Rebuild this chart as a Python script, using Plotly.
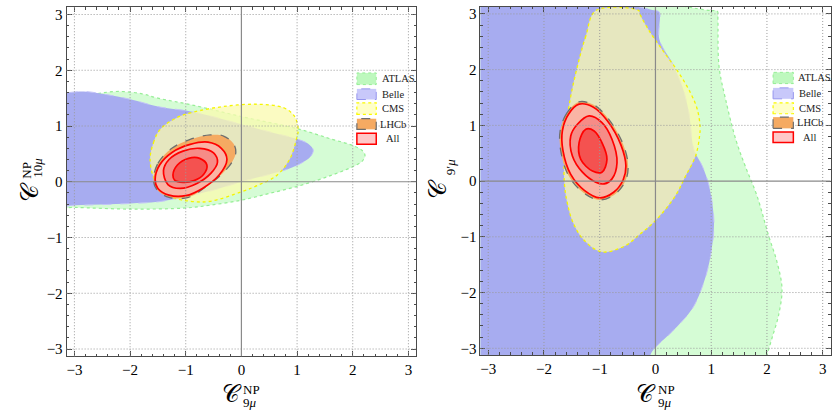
import plotly.graph_objects as go

W, H = 832, 411

# ---------------- data: contour boundaries ----------------
# Left panel: C9mu^NP (x) vs C10mu^NP (y)
atlas_l_x = [-3.5, -3.0, -2.6, -2.2, -1.8, -1.5, -0.9, 0.0, 1.05, 1.6, 2.0, 2.17, 2.22, 2.17, 2.0, 1.6, 1.05, 0.5, 0.0, -0.56, -1.0, -2.0, -3.0, -3.5]
atlas_l_y = [1.45, 1.5, 1.58, 1.62, 1.58, 1.5, 1.38, 1.17, 0.94, 0.77, 0.65, 0.56, 0.47, 0.37, 0.27, 0.11, -0.07, -0.21, -0.33, -0.42, -0.47, -0.49, -0.46, -0.45]

belle_l_x = [-3.5, -3.1, -2.83, -2.4, -2.0, -1.46, -0.9, 0.0, 0.6, 0.99, 1.2, 1.29, 1.24, 1.05, 0.75, 0.3, 0.0, -0.5, -1.0, -1.5, -2.0, -2.5, -3.0, -3.5]
belle_l_y = [1.56, 1.6, 1.62, 1.56, 1.48, 1.34, 1.26, 1.03, 0.87, 0.77, 0.68, 0.57, 0.45, 0.32, 0.2, 0.08, 0.0, -0.15, -0.27, -0.36, -0.39, -0.41, -0.42, -0.42]

cms_l_x = [-1.64, -1.58, -1.46, -1.16, -0.86, -0.32, 0.28, 0.75, 0.95, 1.02, 0.99, 0.87, 0.63, 0.28, 0.0, -0.56, -0.92, -1.3, -1.55]
cms_l_y = [0.4, 0.7, 0.94, 1.15, 1.25, 1.35, 1.39, 1.33, 1.18, 0.94, 0.77, 0.41, 0.11, -0.07, -0.18, -0.35, -0.35, -0.25, 0.02]

lhcb_l_x = [-1.58, -1.5, -1.25, -0.92, -0.56, -0.32, -0.14, -0.1, -0.17, -0.35, -0.65, -0.95, -1.3, -1.52]
lhcb_l_y = [0.03, 0.33, 0.6, 0.76, 0.84, 0.82, 0.68, 0.53, 0.35, 0.14, -0.1, -0.28, -0.28, -0.14]

all3_l_x = [-1.55, -1.47, -1.24, -0.92, -0.6, -0.36, -0.26, -0.4, -0.7, -1.0, -1.3, -1.5]
all3_l_y = [0.04, 0.3, 0.53, 0.67, 0.71, 0.6, 0.4, 0.12, -0.12, -0.25, -0.24, -0.12]
all2_l_x = [-1.4, -1.3, -1.05, -0.75, -0.5, -0.43, -0.55, -0.8, -1.1, -1.32]
all2_l_y = [0.2, 0.4, 0.55, 0.6, 0.52, 0.35, 0.15, -0.03, -0.12, -0.05]
all1_l_x = [-1.23, -1.15, -0.95, -0.75, -0.62, -0.68, -0.85, -1.05, -1.2]
all1_l_y = [0.12, 0.3, 0.42, 0.42, 0.3, 0.13, 0.02, -0.01, 0.03]

# Right panel: C9mu^NP (x) vs C9'mu (y)
atlas_r_x = [-3.5, 1.0, 1.11, 1.12, 1.14, 1.26, 1.44, 1.61, 1.82, 2.03, 2.18, 2.27, 2.21, 2.09, 2.0, 1.97, -3.5]
atlas_r_y = [3.06, 3.06, 3.05, 2.9, 2.06, 1.46, 0.75, 0.27, -0.26, -0.98, -1.45, -1.93, -2.4, -2.82, -3.15, -3.5, -3.5]

belle_r_x = [-3.5, 0.0, 0.07, 0.07, 0.3, 0.48, 0.6, 0.69, 0.84, 0.96, 1.05, 0.99, 0.87, 0.66, 0.3, -0.06, -0.25, -3.5]
belle_r_y = [3.06, 3.06, 3.03, 2.54, 2.12, 1.7, 1.23, 0.57, 0.27, -0.08, -0.74, -1.33, -1.81, -2.29, -2.7, -3.06, -3.5, -3.5]

cms_r_x = [-1.07, -1.25, -1.4, -1.52, -1.6, -1.64, -1.63, -1.58, -1.48, -1.3, -0.97, -0.54, -0.3, 0.0, 0.36, 0.54, 0.72, 0.79, 0.8, 0.75, 0.63, 0.42, 0.12, -0.12, -0.28, -0.3]
cms_r_y = [3.06, 2.6, 2.06, 1.52, 0.99, 0.39, -0.08, -0.4, -0.74, -1.04, -1.27, -1.16, -0.97, -0.71, -0.26, 0.09, 0.45, 0.8, 0.97, 1.29, 1.58, 1.94, 2.36, 2.71, 3.0, 3.06]

lhcb_r_x = [-1.38, -1.59, -1.71, -1.7, -1.56, -1.29, -1.0, -0.72, -0.54, -0.49, -0.58, -0.83, -1.11]
lhcb_r_y = [1.42, 1.22, 0.9, 0.55, 0.1, -0.21, -0.34, -0.23, 0.0, 0.27, 0.66, 1.1, 1.37]

all3_r_x = [-1.37, -1.56, -1.67, -1.66, -1.52, -1.27, -1.0, -0.75, -0.58, -0.53, -0.62, -0.86, -1.12]
all3_r_y = [1.38, 1.2, 0.9, 0.55, 0.12, -0.17, -0.3, -0.2, 0.02, 0.27, 0.65, 1.08, 1.33]
all2_r_x = [-1.19, -1.4, -1.52, -1.49, -1.31, -1.07, -0.92, -0.78, -0.69, -0.78, -0.96]
all2_r_y = [1.17, 1.02, 0.81, 0.45, 0.16, -0.02, -0.05, 0.04, 0.33, 0.75, 1.05]
all1_r_x = [-1.25, -1.37, -1.34, -1.13, -0.96, -0.87, -0.96, -1.1]
all1_r_y = [0.93, 0.69, 0.39, 0.18, 0.16, 0.39, 0.69, 0.9]

tick_vals = [-3, -2, -1, 0, 1, 2, 3]
legend_labels = ["ATLAS", "Belle", "CMS", "LHCb", "All"]

# ---------------- styles ----------------
STY = {
    "ATLAS": dict(fill="rgb(213,252,213)", line="rgb(150,238,150)", dash="dot", width=1.2),
    "Belle": dict(fill="rgb(167,172,240)", line="rgb(195,195,248)", dash="dash", width=1.0),
    "CMS": dict(fill="rgba(250,250,175,0.76)", line="rgb(245,245,0)", dash="dot", width=1.3),
    "LHCb": dict(fill="rgb(245,170,98)", line="rgb(110,110,110)", dash="dash", width=1.3),
    "All3": dict(fill="rgb(250,180,165)", line="rgb(255,0,0)", dash="solid", width=1.7),
    "All2": dict(fill="rgb(246,140,135)", line="rgb(255,0,0)", dash="solid", width=1.7),
    "All1": dict(fill="rgb(244,82,80)", line="rgb(255,0,0)", dash="solid", width=1.7),
}

fig = go.Figure()


def region(xs, ys, key, xa, ya):
    s = STY[key]
    fig.add_trace(go.Scatter(
        x=xs + xs[:1], y=ys + ys[:1], mode="lines", fill="toself",
        fillcolor=s["fill"],
        line=dict(color=s["line"], dash=s["dash"], width=s["width"], shape="spline", smoothing=1.0),
        xaxis=xa, yaxis=ya, hoverinfo="skip", showlegend=False))


for xa, ya, data in [
    ("x", "y", [(atlas_l_x, atlas_l_y, "ATLAS"), (belle_l_x, belle_l_y, "Belle"), (cms_l_x, cms_l_y, "CMS"),
                (lhcb_l_x, lhcb_l_y, "LHCb"), (all3_l_x, all3_l_y, "All3"), (all2_l_x, all2_l_y, "All2"),
                (all1_l_x, all1_l_y, "All1")]),
    ("x2", "y2", [(atlas_r_x, atlas_r_y, "ATLAS"), (belle_r_x, belle_r_y, "Belle"), (cms_r_x, cms_r_y, "CMS"),
                  (lhcb_r_x, lhcb_r_y, "LHCb"), (all3_r_x, all3_r_y, "All3"), (all2_r_x, all2_r_y, "All2"),
                  (all1_r_x, all1_r_y, "All1")]),
]:
    for xs, ys, key in data:
        region(xs, ys, key, xa, ya)

FRAME = "#4a4a4a"
axis_common = dict(
    showgrid=False, zeroline=False, showline=True, linecolor=FRAME, linewidth=1, mirror="ticks",
    ticks="inside", ticklen=5, tickwidth=1, tickcolor=FRAME, tickmode="array", tickvals=tick_vals,
    ticktext=[str(v).replace("-", "\u2212") for v in tick_vals],
    minor=dict(ticks="inside", ticklen=2.5, tickcolor=FRAME, dtick=0.2, tick0=0, showgrid=False),
    tickfont=dict(family="Liberation Serif", size=15, color="black"),
    layer="above traces", fixedrange=True,
)

px2x = lambda p: p / W
px2y = lambda p: 1 - p / H

fig.update_layout(
    width=W, height=H, margin=dict(l=0, r=0, t=0, b=0),
    paper_bgcolor="white", plot_bgcolor="white", showlegend=False,
    xaxis=dict(domain=[px2x(66.7), px2x(416.7)], range=[-3.14, 3.14], anchor="y", **axis_common),
    yaxis=dict(domain=[px2y(358), px2y(7.3)], range=[-3.13, 3.13], anchor="x", **axis_common),
    xaxis2=dict(domain=[px2x(481), px2x(831.5)], range=[-3.14, 3.14], anchor="y2", **axis_common),
    yaxis2=dict(domain=[px2y(356.7), px2y(6.7)], range=[-3.12, 3.13], anchor="x2", **axis_common),
)

shapes = []
GRID = dict(color="#9a9a9a", width=1, dash="1px,2px")
AX = dict(color="#8a8a8a", width=1.2)
for xa, ya in [("x", "y"), ("x2", "y2")]:
    for v in tick_vals:
        if v == 0:
            continue
        shapes.append(dict(type="line", xref=xa, yref=ya + " domain", x0=v, x1=v, y0=0, y1=1, line=GRID, layer="above"))
        shapes.append(dict(type="line", xref=xa + " domain", yref=ya, x0=0, x1=1, y0=v, y1=v, line=GRID, layer="above"))
    shapes.append(dict(type="line", xref=xa, yref=ya + " domain", x0=0, x1=0, y0=0, y1=1, line=AX, layer="above"))
    shapes.append(dict(type="line", xref=xa + " domain", yref=ya, x0=0, x1=1, y0=0, y1=0, line=AX, layer="above"))

# legend swatches + labels
leg_sw = {
    "ATLAS": dict(fill="rgb(190,248,190)", line="rgb(150,238,150)", dash="dot", width=1),
    "Belle": dict(fill="rgb(200,200,250)", line="rgb(150,150,238)", dash="dash", width=1),
    "CMS": dict(fill="rgb(255,255,200)", line="rgb(250,250,0)", dash="dot", width=1.2),
    "LHCb": dict(fill="rgb(245,170,98)", line="rgb(110,110,110)", dash="dash", width=1.2),
    "All": dict(fill="rgb(255,200,200)", line="rgb(255,0,0)", dash="solid", width=1.5),
}
annotations = []
for bx0, bx1, rows, tx, tx_atlas in [
    (357.3, 376.7, [(73.3, 85), (89.3, 100), (103.3, 115), (119.3, 130), (134, 145)], 393.5, 399),
    (774, 794.3, [(72.7, 84), (88.3, 99.3), (103.3, 114.3), (117.7, 129), (132.7, 143.3)], 811.3, 815),
]:
    for lab, (r0, r1) in zip(legend_labels, rows):
        s = leg_sw[lab]
        shapes.append(dict(type="rect", xref="paper", yref="paper", x0=px2x(bx0), x1=px2x(bx1),
                           y0=px2y(r1), y1=px2y(r0), fillcolor=s["fill"],
                           line=dict(color=s["line"], dash=s["dash"], width=s["width"]), layer="above"))
        annotations.append(dict(xref="paper", yref="paper", x=px2x(tx_atlas if lab == "ATLAS" else tx),
                                y=px2y((r0 + r1) / 2), text=lab, showarrow=False, xanchor="center", yanchor="middle",
                                font=dict(family="Liberation Serif", size=10.5, color="#222")))

CAL = "\U0001D49E"
TFONT = "DejaVu Serif, Liberation Serif, serif"
# x titles
for cx in [241.5, 656.6]:
    annotations.append(dict(xref="paper", yref="paper", x=px2x(cx - 9.5), y=px2y(396), text=CAL, showarrow=False,
                            xanchor="center", yanchor="middle", font=dict(family=TFONT, size=24, color="black")))
    annotations.append(dict(xref="paper", yref="paper", x=px2x(cx + 10.5), y=px2y(391.5), text="NP", showarrow=False,
                            xanchor="center", yanchor="middle", font=dict(family="Liberation Serif", size=13, color="black")))
    annotations.append(dict(xref="paper", yref="paper", x=px2x(cx + 9), y=px2y(404), text="9<i>\u03bc</i>", showarrow=False,
                            xanchor="center", yanchor="middle", font=dict(family="Liberation Serif", size=13, color="black")))
# y title left
annotations.append(dict(xref="paper", yref="paper", x=px2x(30.5), y=px2y(192), text=CAL, showarrow=False, textangle=-90,
                        xanchor="center", yanchor="middle", font=dict(family=TFONT, size=24, color="black")))
annotations.append(dict(xref="paper", yref="paper", x=px2x(26.5), y=px2y(171), text="NP", showarrow=False, textangle=-90,
                        xanchor="center", yanchor="middle", font=dict(family="Liberation Serif", size=13, color="black")))
annotations.append(dict(xref="paper", yref="paper", x=px2x(37.5), y=px2y(168), text="10<i>\u03bc</i>", showarrow=False, textangle=-90,
                        xanchor="center", yanchor="middle", font=dict(family="Liberation Serif", size=13, color="black")))
# y title right
annotations.append(dict(xref="paper", yref="paper", x=px2x(438.5), y=px2y(190), text=CAL, showarrow=False, textangle=-90,
                        xanchor="center", yanchor="middle", font=dict(family=TFONT, size=24, color="black")))
annotations.append(dict(xref="paper", yref="paper", x=px2x(450.5), y=px2y(168), text="9\u2032<i>\u03bc</i>", showarrow=False, textangle=-90,
                        xanchor="center", yanchor="middle", font=dict(family="Liberation Serif", size=13, color="black")))

fig.update_layout(shapes=shapes, annotations=annotations)
fig.write_html("out.html", config={"displayModeBar": False, "staticPlot": True},
               post_script="document.body.style.margin='0';document.body.style.padding='0';")
